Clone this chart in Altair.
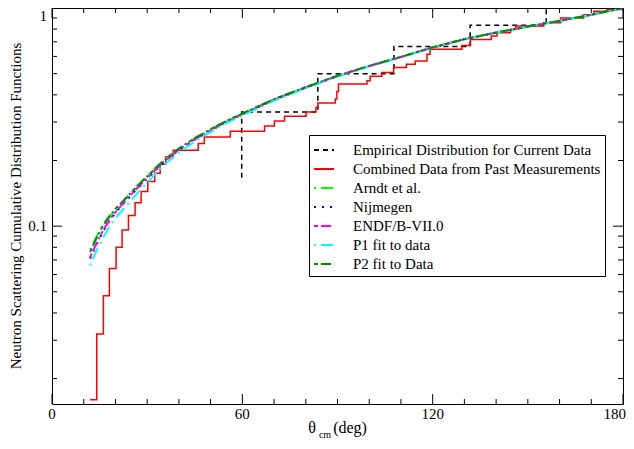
import altair as alt
import pandas as pd

SERIF = "Liberation Serif"

series_names = [
    "Empirical Distribution for Current Data",
    "Combined Data from Past Measurements",
    "Arndt et al.",
    "Nijmegen",
    "ENDF/B-VII.0",
    "P1 fit to  data",
    "P2 fit to Data",
]
series_colors = ["#000000", "#ff0000", "#00ff00", "#0000ff", "#ff00ff", "#00ffff", "#008b00"]
series_dashes = [[5, 4], [1, 0], [2, 5, 12, 5], [2, 6], [4, 3, 10, 3, 2, 3], [2, 5, 12, 5], [4, 3, 10, 3, 2, 3]]

theta_empirical = [59.8, 83.8, 107.8, 131.8, 155.8, 180.0]
cdf_empirical = [0.1667, 0.3333, 0.5, 0.6667, 0.8333, 1.0]

theta_past = [12.0, 14.1, 16.2, 18.1, 20.2, 22.1, 24.1, 26.2, 28.1, 30.2, 32.4, 34.1, 35.9, 38.2,
              46.1, 48.0, 56.2, 67.0, 70.1, 73.3, 80.1, 83.2, 83.8, 89.3, 89.8, 90.3, 99.3, 100.3,
              104.0, 107.7, 111.7, 114.5, 118.2, 119.2, 129.2, 131.9, 138.5, 140.3, 144.5, 146.1,
              155.0, 160.3, 167.6, 170.8, 175.0, 180.0]
cdf_past = [0.016, 0.032, 0.048, 0.064, 0.080, 0.096, 0.112, 0.128, 0.144, 0.160, 0.175, 0.192, 0.208, 0.223,
            0.239, 0.256, 0.272, 0.288, 0.303, 0.319, 0.334, 0.350, 0.367, 0.383, 0.414, 0.448, 0.464, 0.486,
            0.506, 0.533, 0.552, 0.572, 0.613, 0.647, 0.674, 0.718, 0.744, 0.770, 0.797, 0.826,
            0.855, 0.901, 0.932, 0.966, 0.983, 0.992]

theta_model = [12, 14, 16, 18, 20, 23, 26, 30, 35, 40, 45, 50, 55, 60, 70, 80, 90, 100, 110, 120,
               130, 140, 150, 160, 170, 180]
cdf_arndt = [0.078, 0.089, 0.101, 0.111, 0.117, 0.133, 0.148, 0.170, 0.199, 0.227, 0.253, 0.278, 0.304,
             0.328, 0.382, 0.434, 0.489, 0.543, 0.597, 0.660, 0.720, 0.771, 0.821, 0.872, 0.930, 1.0]
cdf_nijmegen = [0.071, 0.082, 0.094, 0.105, 0.115, 0.129, 0.144, 0.165, 0.195, 0.223, 0.249, 0.274, 0.301,
                0.325, 0.379, 0.431, 0.487, 0.541, 0.596, 0.659, 0.719, 0.771, 0.821, 0.873, 0.931, 1.0]
cdf_endf = [0.072, 0.083, 0.095, 0.106, 0.116, 0.130, 0.145, 0.166, 0.196, 0.224, 0.250, 0.275, 0.302,
            0.326, 0.380, 0.432, 0.488, 0.542, 0.596, 0.660, 0.720, 0.772, 0.822, 0.874, 0.932, 1.0]
cdf_p1 = [0.066, 0.077, 0.088, 0.099, 0.109, 0.122, 0.137, 0.158, 0.189, 0.217, 0.244, 0.270, 0.297,
          0.321, 0.376, 0.429, 0.486, 0.541, 0.595, 0.658, 0.719, 0.771, 0.822, 0.874, 0.932, 1.0]
cdf_p2 = [0.076, 0.088, 0.100, 0.110, 0.120, 0.133, 0.148, 0.169, 0.199, 0.227, 0.253, 0.278, 0.304,
          0.328, 0.382, 0.434, 0.489, 0.543, 0.597, 0.660, 0.720, 0.772, 0.822, 0.873, 0.931, 1.0]

x_major = [0, 60, 120, 180]
x_major_labels = ["0", "60", "120", "180"]
x_minor = [10, 20, 30, 40, 50, 70, 80, 90, 100, 110, 130, 140, 150, 160, 170]
y_major = [0.1, 1]
y_major_labels = ["0.1", "1"]
y_minor = [0.02, 0.03, 0.04, 0.05, 0.06, 0.07, 0.08, 0.09, 0.2, 0.3, 0.4, 0.5, 0.6, 0.7, 0.8, 0.9]

xtitle_parts = ["θ", "cm", "(deg)"]
ytitle = ["Neutron Scattering Cumulative Distribution Functions"]

W, H = 571, 396

frames = [
    pd.DataFrame({"series": series_names[0], "theta": theta_empirical, "cdf": cdf_empirical}),
    pd.DataFrame({"series": series_names[1], "theta": theta_past, "cdf": cdf_past}),
]
for name, vals in zip(series_names[2:], [cdf_arndt, cdf_nijmegen, cdf_endf, cdf_p1, cdf_p2]):
    frames.append(pd.DataFrame({"series": name, "theta": theta_model, "cdf": vals}))
df = pd.concat(frames, ignore_index=True)

x_scale = alt.Scale(domain=[0, 180], nice=False, zero=False)
y_scale = alt.Scale(type="log", domain=[0.0153, 1], nice=False)
color_scale = alt.Scale(domain=series_names, range=series_colors)
dash_scale = alt.Scale(domain=series_names, range=series_dashes)

legend = alt.Legend(title=None, orient="none", legendX=257, legendY=127)

interps = ["step-before", "step-after", "linear", "linear", "linear", "linear", "linear"]
widths = [1.5, 1.5, 2, 2, 2, 2, 2]

layers = []
for name, interp, w in zip(series_names, interps, widths):
    layers.append(
        alt.Chart(df)
        .transform_filter(alt.datum.series == name)
        .mark_line(interpolate=interp, strokeWidth=w, clip=True)
        .encode(
            x=alt.X("theta:Q", scale=x_scale, axis=None),
            y=alt.Y("cdf:Q", scale=y_scale, axis=None),
            color=alt.Color("series:N", scale=color_scale, legend=legend),
            strokeDash=alt.StrokeDash("series:N", scale=dash_scale, legend=legend),
        )
    )

# inward tick marks on all four sides (tick marks placed through the scales)
for vals, size in [(x_major, 10), (x_minor, 5)]:
    tdf = pd.DataFrame({"v": vals})
    for yc in [H - size / 2, size / 2]:
        layers.append(
            alt.Chart(tdf).mark_tick(color="black", thickness=1, size=size, orient="vertical", opacity=1)
            .encode(x=alt.X("v:Q", scale=x_scale, axis=None), y=alt.value(yc))
        )
for vals, size in [(y_major, 10), (y_minor, 5)]:
    tdf = pd.DataFrame({"v": vals})
    for xc in [size / 2, W - size / 2]:
        layers.append(
            alt.Chart(tdf).mark_tick(color="black", thickness=1, size=size, orient="horizontal", opacity=1)
            .encode(y=alt.Y("v:Q", scale=y_scale, axis=None), x=alt.value(xc))
        )

# tick labels (placed through the scales)
xl = pd.DataFrame({"v": x_major, "lab": x_major_labels})
layers.append(
    alt.Chart(xl).transform_filter(alt.datum.v < 180)
    .mark_text(font=SERIF, fontSize=15, baseline="top", align="center", color="black")
    .encode(x=alt.X("v:Q", scale=x_scale, axis=None), y=alt.value(H + 3), text="lab:N")
)
layers.append(
    alt.Chart(xl).transform_filter(alt.datum.v >= 180)
    .mark_text(font=SERIF, fontSize=15, baseline="top", align="right", dx=3, color="black")
    .encode(x=alt.X("v:Q", scale=x_scale, axis=None), y=alt.value(H + 3), text="lab:N")
)
yl = pd.DataFrame({"v": y_major, "lab": y_major_labels})
layers.append(
    alt.Chart(yl).transform_filter(alt.datum.v < 1)
    .mark_text(font=SERIF, fontSize=15, baseline="middle", align="right", color="black")
    .encode(y=alt.Y("v:Q", scale=y_scale, axis=None), x=alt.value(-5), text="lab:N")
)
layers.append(
    alt.Chart(yl).transform_filter(alt.datum.v >= 1)
    .mark_text(font=SERIF, fontSize=15, baseline="top", align="right", dy=1, color="black")
    .encode(y=alt.Y("v:Q", scale=y_scale, axis=None), x=alt.value(-5), text="lab:N")
)

# axis titles
layers.append(
    alt.Chart(pd.DataFrame({"t": ytitle}))
    .mark_text(font=SERIF, fontSize=15, baseline="middle", align="center", angle=270, color="black")
    .encode(x=alt.value(-36), y=alt.value(H / 2), text="t:N")
)
title_pos = [(260, H + 24, 16), (273, H + 31, 10), (298, H + 24, 16)]
for part, (px, py, fs) in zip(xtitle_parts, title_pos):
    layers.append(
        alt.Chart(pd.DataFrame({"t": [part]}))
        .mark_text(font=SERIF, fontSize=fs, baseline="middle", align="center", color="black")
        .encode(x=alt.value(px), y=alt.value(py), text="t:N")
    )

chart = (
    alt.layer(*layers)
    .properties(width=W, height=H,
                padding={"left": 44, "top": 0, "right": 3, "bottom": 37},
                autosize=alt.AutoSizeParams(type="none"))
    .configure_view(stroke="black", strokeWidth=1)
    .configure_legend(labelFont=SERIF, labelFontSize=15, labelColor="black", symbolType="stroke",
                      symbolSize=400, symbolStrokeWidth=2, labelOffset=18, padding=4, rowPadding=-4,
                      strokeColor="black", fillColor="white", cornerRadius=0, labelLimit=0, offset=0)
)

chart.save("out.html", embed_options={"renderer": "svg", "actions": False})
